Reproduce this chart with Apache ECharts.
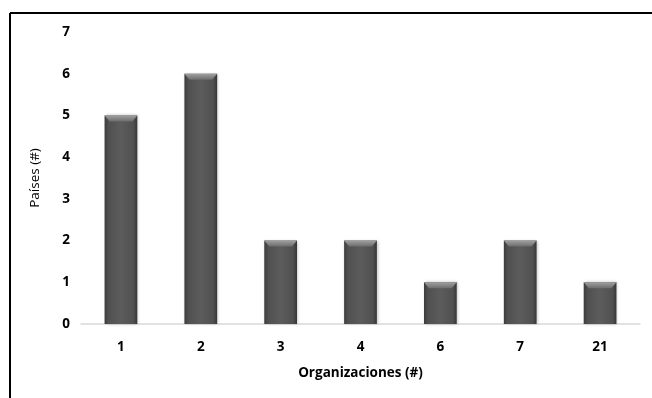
<!DOCTYPE html>
<html>
<head>
<meta charset="utf-8">
<script src="https://cdn.jsdelivr.net/npm/echarts@6/dist/echarts.min.js"></script>
<style>
  html, body { margin: 0; padding: 0; background: #fff; }
  #chart { width: 652px; height: 398px; }
</style>
</head>
<body>
<div id="chart"></div>
<script>
// Number of organizations a country belongs to, and how many countries fall in each group
const categories = ['1', '2', '3', '4', '6', '7', '21'];
const countries = [5, 6, 2, 2, 1, 2, 1];
const yTicks = [0, 1, 2, 3, 4, 5, 6, 7];

const FONT = '"Open Sans", "Liberation Sans", sans-serif';

// Beveled grey column: dark sides, lighter top chamfer
function renderBevelBar(params, api) {
  const idx = api.value(0);
  const val = api.value(1);
  const top = api.coord([idx, val]);
  const base = api.coord([idx, 0]);
  const bandW = api.size([1, 0])[0];
  const w = bandW * 0.41;
  const x = top[0] - w / 2;
  const y = top[1];
  const h = base[1] - top[1];
  const bevel = 6;
  const inset = 5;
  return {
    type: 'group',
    children: [
      {
        type: 'rect',
        shape: { x: x, y: y, width: w, height: h },
        style: {
          fill: new echarts.graphic.LinearGradient(0, 0, 1, 0, [
            { offset: 0, color: '#3c3c3c' },
            { offset: 0.12, color: '#505050' },
            { offset: 0.5, color: '#5c5c5c' },
            { offset: 0.88, color: '#505050' },
            { offset: 1, color: '#363636' }
          ]),
          shadowColor: 'rgba(0,0,0,0.25)',
          shadowBlur: 3,
          shadowOffsetX: 1
        }
      },
      {
        type: 'polygon',
        shape: {
          points: [[x, y], [x + w, y], [x + w - inset, y + bevel], [x + inset, y + bevel]]
        },
        style: {
          fill: new echarts.graphic.LinearGradient(0, 0, 0, 1, [
            { offset: 0, color: '#a0a0a0' },
            { offset: 1, color: '#6c6c6c' }
          ])
        }
      }
    ]
  };
}

const chart = echarts.init(document.getElementById('chart'), null, { renderer: 'canvas' });
chart.setOption({
  animation: false,
  backgroundColor: '#ffffff',
  grid: { left: 81, right: 12, top: 32, bottom: 74, containLabel: false },
  xAxis: {
    type: 'category',
    data: categories,
    name: 'Organizaciones (#)',
    nameLocation: 'middle',
    nameGap: 42,
    nameTextStyle: { fontFamily: FONT, fontSize: 13.5, fontWeight: 'bold', color: '#000' },
    axisLine: { show: true, lineStyle: { color: '#d9d9d9', width: 1.5 } },
    axisTick: { show: false },
    axisLabel: { margin: 16, fontFamily: FONT, fontSize: 13.5, fontWeight: 'bold', color: '#000' }
  },
  yAxis: {
    type: 'value',
    min: yTicks[0],
    max: yTicks[yTicks.length - 1],
    interval: 1,
    name: 'Países (#)',
    nameLocation: 'middle',
    nameGap: 39,
    nameRotate: 90,
    nameTextStyle: { fontFamily: FONT, fontSize: 13.5, color: '#000' },
    axisLine: { show: false },
    axisTick: { show: false },
    splitLine: { show: false },
    axisLabel: { margin: 11, fontFamily: FONT, fontSize: 13.5, fontWeight: 'bold', color: '#000' }
  },
  series: [{
    type: 'custom',
    renderItem: renderBevelBar,
    encode: { x: 0, y: 1 },
    data: countries.map((v, i) => [i, v])
  }],
  graphic: [
    { type: 'line', shape: { x1: 10, y1: 13, x2: 652, y2: 13 }, style: { stroke: '#000', lineWidth: 2 } },
    { type: 'line', shape: { x1: 10, y1: 13, x2: 10, y2: 398 }, style: { stroke: '#000', lineWidth: 2 } }
  ]
});
</script>
</body>
</html>
